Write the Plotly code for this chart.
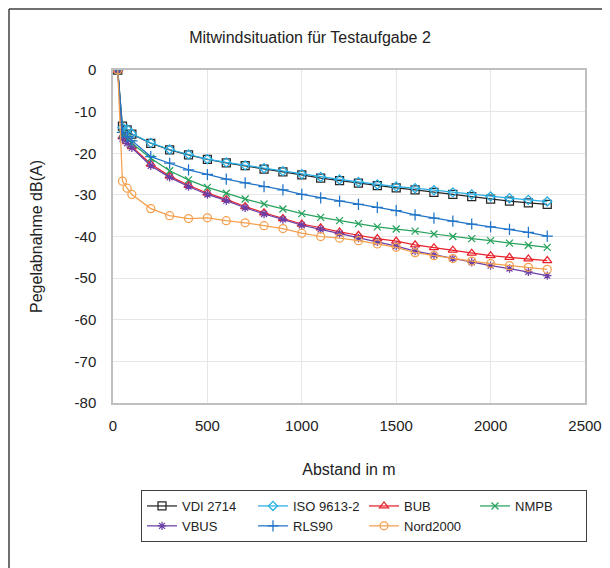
import plotly.graph_objects as go

distance = [25, 50, 75, 100, 200, 300, 400, 500, 600, 700, 800, 900, 1000, 1100, 1200,
            1300, 1400, 1500, 1600, 1700, 1800, 1900, 2000, 2100, 2200, 2300]

vdi_2714 = [0, -13.5, -14.4, -15.4, -17.6, -19.2, -20.4, -21.5, -22.3, -23.0, -23.8, -24.5, -25.2,
            -26.0, -26.6, -27.2, -27.8, -28.3, -28.8, -29.4, -29.9, -30.4, -31.0, -31.5, -31.9, -32.3]
iso_9613_2 = [0, -13.8, -14.2, -15.3, -17.5, -19.1, -20.3, -21.4, -22.2, -22.9, -23.6, -24.3, -25.0,
              -25.7, -26.3, -26.9, -27.5, -28.0, -28.4, -28.9, -29.4, -29.9, -30.4, -30.8, -31.2, -31.6]
bub = [0, -16.0, -17.2, -18.4, -22.6, -25.5, -27.7, -29.6, -31.1, -32.8, -34.3, -35.7, -37.0,
       -37.9, -38.9, -39.7, -40.5, -41.1, -42.0, -42.7, -43.3, -44.0, -44.6, -45.0, -45.4, -45.8]
nmpb = [0, -15.5, -16.5, -17.6, -21.2, -24.2, -26.4, -28.2, -29.6, -31.0, -32.2, -33.4, -34.5,
        -35.4, -36.2, -36.9, -37.7, -38.2, -38.7, -39.4, -40.0, -40.5, -41.0, -41.6, -42.1, -42.6]
vbus = [0, -16.5, -17.6, -18.7, -23.0, -25.8, -28.0, -29.9, -31.4, -33.1, -34.6, -35.9, -37.3,
        -38.3, -39.3, -40.4, -41.3, -42.3, -43.5, -44.4, -45.3, -46.2, -47.0, -47.7, -48.5, -49.4]
rls90 = [0, -15.0, -16.0, -17.0, -20.8, -22.4, -24.0, -25.1, -26.2, -27.1, -28.0, -28.8, -29.9,
         -30.7, -31.5, -32.3, -33.0, -33.8, -34.8, -35.6, -36.3, -37.0, -37.7, -38.3, -39.0, -39.9]
nord2000 = [0, -26.7, -28.4, -29.9, -33.3, -35.0, -35.7, -35.5, -36.2, -36.7, -37.4, -38.1, -39.2,
            -40.0, -40.4, -41.0, -41.8, -42.6, -43.9, -44.6, -45.3, -45.9, -46.5, -47.0, -47.4, -47.9]

x_ticks = [0, 500, 1000, 1500, 2000, 2500]
x_tick_labels = ["0", "500", "1000", "1500", "2000", "2500"]
y_ticks = [0, -10, -20, -30, -40, -50, -60, -70, -80]
y_tick_labels = ["0", "-10", "-20", "-30", "-40", "-50", "-60", "-70", "-80"]

series = [
    ("VDI 2714", vdi_2714, "#262626", "square-open", 8),
    ("ISO 9613-2", iso_9613_2, "#29aee4", "diamond-open", 7),
    ("BUB", bub, "#e8232b", "triangle-up-open", 8),
    ("NMPB", nmpb, "#27a25c", "x-thin-open", 7),
    ("VBUS", vbus, "#6b3fa6", "asterisk-open", 7),
    ("RLS90", rls90, "#1f74c8", "cross-thin-open", 8),
    ("Nord2000", nord2000, "#f5a04e", "circle-open", 8),
]

fig = go.Figure()
for name, vals, color, sym, size in series:
    fig.add_trace(go.Scatter(
        x=distance, y=vals, name=name, mode="lines+markers",
        line=dict(color=color, width=1.25),
        marker=dict(symbol=sym, size=size, color=color, line=dict(color=color, width=1.25)),
    ))

# The page body has an 8px margin, so the figure is laid out in
# coordinates shifted by 8px relative to the screenshot.
OFF = 8
W, H = 610 - OFF, 568 - OFF
L, R, T, B = 113 - OFF, 25, 70 - OFF, 165
pw, ph = W - L - R, H - T - B

def px_x(p):
    return (p - OFF - L) / pw

def px_y(p):
    return (H - B - (p - OFF)) / ph

font_family = "Liberation Sans, Arial, sans-serif"

fig.update_layout(
    width=W, height=H,
    margin=dict(l=L, r=R, t=T, b=B, autoexpand=False),
    paper_bgcolor="white", plot_bgcolor="white",
    font=dict(family=font_family, color="#222222", size=15),
    title=dict(text="Mitwindsituation für Testaufgabe 2", xref="container",
               x=(310 - OFF) / W, xanchor="center", yref="container",
               y=1 - (37 - OFF) / H, yanchor="middle",
               font=dict(size=16, color="#222222")),
    xaxis=dict(range=[0, 2500], tickvals=x_ticks, ticktext=x_tick_labels,
               showgrid=True, gridcolor="#e6e6e6", automargin=False,
               showline=True, linecolor="#bfbfbf", linewidth=1.5, mirror=True,
               zeroline=False, ticks="", ticklabelstandoff=8,
               tickfont=dict(size=15),
               title=dict(text="Abstand in m", standoff=31, font=dict(size=16))),
    yaxis=dict(range=[-80, 0], tickvals=y_ticks, ticktext=y_tick_labels,
               showgrid=True, gridcolor="#e6e6e6", automargin=False,
               showline=True, linecolor="#bfbfbf", linewidth=1.5, mirror=True,
               zeroline=False, ticks="", ticklabelstandoff=12,
               tickfont=dict(size=15),
               title=dict(text="Pegelabnahme dB(A)", standoff=28, font=dict(size=16))),
    legend=dict(orientation="h", xref="container", x=(141 - OFF) / W, xanchor="left",
                yref="container", y=1 - (490 - OFF) / H, yanchor="top",
                bordercolor="#404040", borderwidth=1, bgcolor="white",
                entrywidth=66, entrywidthmode="pixels", traceorder="normal",
                font=dict(size=13, color="#222222")),
    shapes=[
        dict(type="line", xref="paper", yref="paper", x0=px_x(9), x1=px_x(620),
             y0=px_y(9), y1=px_y(9), line=dict(color="#404040", width=1.5)),
        dict(type="line", xref="paper", yref="paper", x0=px_x(9), x1=px_x(9),
             y0=px_y(9), y1=px_y(580), line=dict(color="#404040", width=1.5)),
    ],
)

fig.write_html("out.html")
